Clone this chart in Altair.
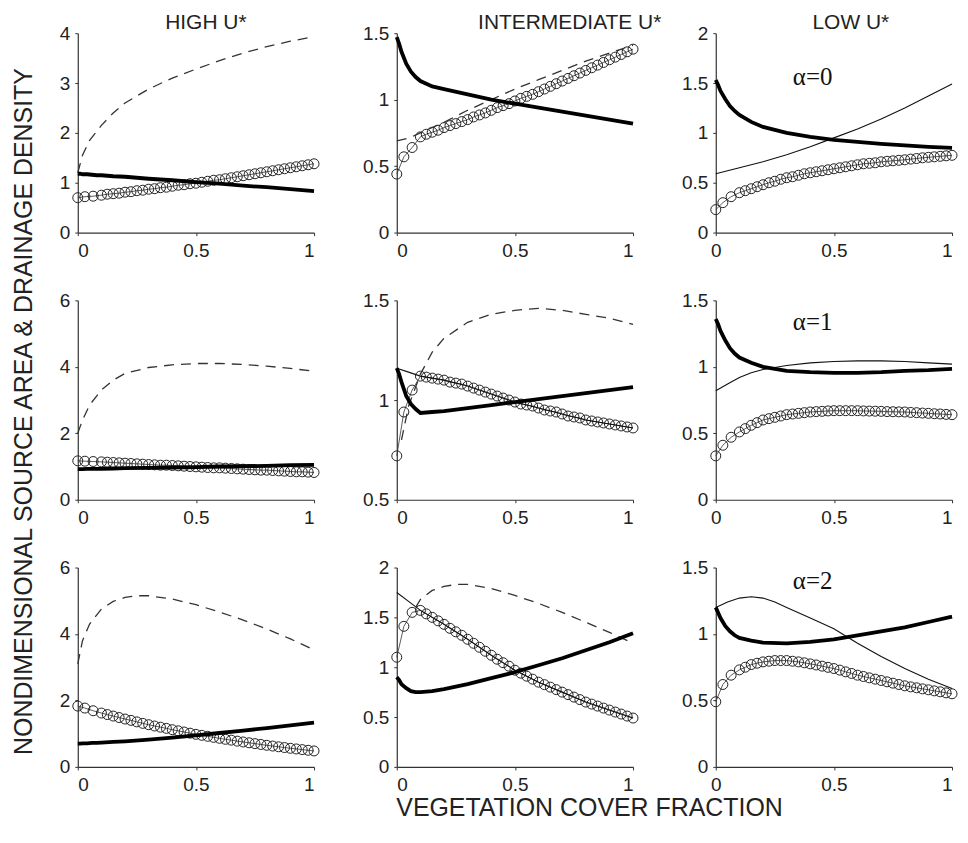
import altair as alt
import pandas as pd

FONT = "Liberation Sans, Arial, sans-serif"
SERIF = "Liberation Serif, Times New Roman, serif"

# ---------------- column / row labels ----------------
COL_TITLES = ["HIGH U*", "INTERMEDIATE U*", "LOW U*"]
Y_TITLE = "NONDIMENSIONAL SOURCE AREA & DRAINAGE DENSITY"
X_TITLE = "VEGETATION COVER FRACTION"
ALPHA_LABELS = ["\u03b1=0", "\u03b1=1", "\u03b1=2"]
ALPHA_X = [0.41, 0.41, 0.41]
ALPHA_Y = [1.56, 1.34, 1.40]

X_TICKS = [0, 0.5, 1]
Y_DOMAINS = [[0, 4], [0, 1.5], [0, 2],
             [0, 6], [0.5, 1.5], [0, 1.5],
             [0, 6], [0, 2], [0, 1.5]]
Y_TICKS = [[0, 1, 2, 3, 4], [0, 0.5, 1, 1.5], [0, 0.5, 1, 1.5, 2],
           [0, 2, 4, 6], [0.5, 1, 1.5], [0, 0.5, 1, 1.5],
           [0, 2, 4, 6], [0, 0.5, 1, 1.5, 2], [0, 0.5, 1, 1.5]]

# ---------------- circle series (common x grid) ----------------
X_CIRC = [0, 0.03, 0.065, 0.1, 0.125, 0.15, 0.175, 0.2, 0.225, 0.25, 0.275, 0.3,
          0.325, 0.35, 0.375, 0.4, 0.425, 0.45, 0.475, 0.5, 0.525, 0.55, 0.575,
          0.6, 0.625, 0.65, 0.675, 0.7, 0.725, 0.75, 0.775, 0.8, 0.825, 0.85,
          0.875, 0.9, 0.925, 0.95, 0.975, 1.0]

CIRC_11 = [0.70, 0.72, 0.73, 0.75, 0.77, 0.78, 0.79, 0.81, 0.82, 0.84, 0.85, 0.87,
           0.88, 0.90, 0.91, 0.93, 0.95, 0.96, 0.98, 0.99, 1.01, 1.03, 1.05, 1.06,
           1.08, 1.10, 1.12, 1.14, 1.16, 1.18, 1.20, 1.22, 1.24, 1.26, 1.28, 1.30,
           1.32, 1.34, 1.36, 1.38]
CIRC_12 = [0.44, 0.57, 0.64, 0.72, 0.74, 0.755, 0.77, 0.79, 0.805, 0.82, 0.835, 0.85,
           0.87, 0.885, 0.90, 0.92, 0.94, 0.955, 0.97, 0.99, 1.01, 1.025, 1.04, 1.06,
           1.08, 1.10, 1.12, 1.14, 1.16, 1.18, 1.20, 1.22, 1.24, 1.26, 1.28, 1.30,
           1.32, 1.34, 1.36, 1.38]
CIRC_13 = [0.23, 0.30, 0.36, 0.40, 0.42, 0.44, 0.46, 0.48, 0.50, 0.515, 0.535, 0.55,
           0.56, 0.575, 0.59, 0.60, 0.61, 0.62, 0.63, 0.64, 0.65, 0.66, 0.67, 0.68,
           0.69, 0.695, 0.70, 0.71, 0.715, 0.72, 0.725, 0.73, 0.737, 0.743, 0.75,
           0.755, 0.76, 0.765, 0.77, 0.775]
CIRC_21 = [1.17, 1.16, 1.15, 1.14, 1.13, 1.12, 1.11, 1.10, 1.09, 1.08, 1.07, 1.06,
           1.05, 1.04, 1.04, 1.03, 1.02, 1.01, 1.00, 0.99, 0.98, 0.97, 0.96, 0.96,
           0.95, 0.94, 0.93, 0.92, 0.91, 0.90, 0.89, 0.89, 0.88, 0.87, 0.86, 0.85,
           0.84, 0.84, 0.83, 0.82]
CIRC_22 = [0.72, 0.94, 1.05, 1.12, 1.115, 1.11, 1.105, 1.10, 1.09, 1.085, 1.08, 1.07,
           1.06, 1.05, 1.04, 1.03, 1.02, 1.01, 1.00, 0.99, 0.98, 0.975, 0.97, 0.96,
           0.95, 0.945, 0.94, 0.93, 0.92, 0.915, 0.91, 0.90, 0.895, 0.89, 0.885,
           0.88, 0.875, 0.87, 0.865, 0.86]
CIRC_23 = [0.33, 0.41, 0.47, 0.51, 0.535, 0.56, 0.58, 0.60, 0.61, 0.62, 0.63, 0.64,
           0.645, 0.65, 0.655, 0.66, 0.663, 0.665, 0.668, 0.67, 0.67, 0.67, 0.67,
           0.67, 0.668, 0.667, 0.666, 0.665, 0.663, 0.662, 0.661, 0.66, 0.657,
           0.655, 0.652, 0.65, 0.647, 0.645, 0.642, 0.64]
CIRC_31 = [1.83, 1.77, 1.69, 1.62, 1.575, 1.53, 1.485, 1.44, 1.40, 1.355, 1.31, 1.27,
           1.23, 1.195, 1.16, 1.12, 1.085, 1.05, 1.015, 0.98, 0.95, 0.92, 0.89, 0.86,
           0.83, 0.805, 0.775, 0.75, 0.725, 0.70, 0.675, 0.65, 0.627, 0.605, 0.582,
           0.56, 0.54, 0.52, 0.50, 0.48]
CIRC_32 = [1.10, 1.41, 1.55, 1.57, 1.535, 1.50, 1.465, 1.43, 1.39, 1.355, 1.32, 1.28,
           1.24, 1.20, 1.16, 1.12, 1.08, 1.045, 1.01, 0.97, 0.94, 0.91, 0.88, 0.85,
           0.825, 0.80, 0.775, 0.75, 0.725, 0.70, 0.675, 0.65, 0.63, 0.61, 0.59,
           0.57, 0.55, 0.53, 0.51, 0.49]
CIRC_33 = [0.49, 0.62, 0.69, 0.73, 0.75, 0.77, 0.78, 0.79, 0.795, 0.80, 0.80, 0.80,
           0.795, 0.79, 0.783, 0.775, 0.767, 0.758, 0.749, 0.74, 0.728, 0.715, 0.703,
           0.69, 0.68, 0.67, 0.66, 0.65, 0.64, 0.63, 0.62, 0.61, 0.602, 0.595, 0.587,
           0.58, 0.572, 0.565, 0.557, 0.55]

# ---------------- thick solid series ----------------
X_THICK = [0, 0.01, 0.02, 0.04, 0.06, 0.08, 0.1, 0.15, 0.2, 0.3, 0.4, 0.5, 0.6, 0.7,
           0.8, 0.9, 1.0]
THICK_11 = [1.18, 1.18, 1.17, 1.17, 1.16, 1.15, 1.15, 1.13, 1.12, 1.08, 1.05, 1.01,
            0.98, 0.94, 0.91, 0.87, 0.83]
THICK_12 = [1.47, 1.42, 1.36, 1.27, 1.21, 1.17, 1.14, 1.10, 1.08, 1.04, 1.00, 0.97,
            0.94, 0.91, 0.88, 0.85, 0.82]
THICK_13 = [1.53, 1.48, 1.42, 1.34, 1.27, 1.22, 1.18, 1.11, 1.06, 1.00, 0.96, 0.93,
            0.91, 0.89, 0.875, 0.86, 0.85]
THICK_21 = [0.92, 0.92, 0.92, 0.93, 0.93, 0.93, 0.93, 0.94, 0.95, 0.96, 0.97, 0.98,
            1.00, 1.01, 1.02, 1.04, 1.05]
THICK_22 = [1.16, 1.13, 1.09, 1.02, 0.98, 0.955, 0.935, 0.94, 0.945, 0.96, 0.975,
            0.99, 1.005, 1.02, 1.035, 1.05, 1.065]
THICK_23 = [1.36, 1.32, 1.27, 1.20, 1.14, 1.10, 1.07, 1.03, 1.00, 0.97, 0.96, 0.955,
            0.955, 0.96, 0.97, 0.975, 0.985]
THICK_31 = [0.70, 0.70, 0.71, 0.71, 0.72, 0.72, 0.73, 0.75, 0.77, 0.82, 0.88, 0.95,
            1.02, 1.09, 1.17, 1.25, 1.33]
THICK_32 = [0.90, 0.87, 0.83, 0.79, 0.76, 0.75, 0.75, 0.76, 0.78, 0.83, 0.89, 0.95,
            1.02, 1.09, 1.17, 1.25, 1.34]
THICK_33 = [1.20, 1.16, 1.12, 1.06, 1.02, 0.99, 0.97, 0.95, 0.935, 0.93, 0.94, 0.96,
            0.99, 1.02, 1.05, 1.09, 1.13]

# ---------------- dashed series ----------------
DASH_11_X = [0, 0.02, 0.05, 0.1, 0.15, 0.2, 0.3, 0.4, 0.5, 0.6, 0.7, 0.8, 0.9, 1.0]
DASH_11_Y = [1.2, 1.55, 1.85, 2.15, 2.4, 2.6, 2.88, 3.1, 3.28, 3.45, 3.6, 3.73, 3.84, 3.93]
DASH_12_X = [0, 0.05, 0.1, 0.2, 0.3, 0.4, 0.5, 0.6, 0.7, 0.8, 0.9, 1.0]
DASH_12_Y = [0.69, 0.71, 0.75, 0.83, 0.92, 1.0, 1.08, 1.15, 1.22, 1.29, 1.35, 1.41]
DASH_21_X = [0, 0.02, 0.05, 0.1, 0.15, 0.2, 0.3, 0.4, 0.5, 0.6, 0.7, 0.8, 0.9, 1.0]
DASH_21_Y = [2.0, 2.4, 2.85, 3.3, 3.6, 3.8, 3.98, 4.06, 4.1, 4.1, 4.07, 4.02, 3.95, 3.87]
DASH_22_X = [0.02, 0.05, 0.1, 0.15, 0.2, 0.3, 0.4, 0.5, 0.6, 0.7, 0.8, 0.9, 1.0]
DASH_22_Y = [0.8, 0.97, 1.13, 1.24, 1.31, 1.39, 1.43, 1.45, 1.46, 1.45, 1.43, 1.41, 1.38]
DASH_31_X = [0, 0.02, 0.05, 0.1, 0.15, 0.2, 0.25, 0.3, 0.4, 0.5, 0.6, 0.7, 0.8, 0.9, 1.0]
DASH_31_Y = [3.1, 3.8, 4.3, 4.75, 4.98, 5.1, 5.15, 5.15, 5.05, 4.88, 4.66, 4.42, 4.15,
             3.85, 3.52]
DASH_32_X = [0.08, 0.1, 0.15, 0.2, 0.25, 0.3, 0.4, 0.5, 0.6, 0.7, 0.8, 0.9, 1.0]
DASH_32_Y = [1.6, 1.68, 1.77, 1.81, 1.83, 1.83, 1.79, 1.72, 1.64, 1.55, 1.45, 1.35, 1.24]

# ---------------- thin solid series ----------------
THIN_13_X = [0, 0.1, 0.2, 0.3, 0.4, 0.5, 0.6, 0.7, 0.8, 0.9, 1.0]
THIN_13_Y = [0.59, 0.65, 0.71, 0.78, 0.86, 0.95, 1.04, 1.14, 1.25, 1.37, 1.49]
THIN_22_X = [0, 0.05, 0.1, 0.2, 0.3, 0.4, 0.5, 0.6, 0.7, 0.8, 0.9, 1.0]
THIN_22_Y = [1.16, 1.14, 1.12, 1.10, 1.07, 1.03, 0.99, 0.96, 0.93, 0.90, 0.88, 0.86]
THIN_23_X = [0, 0.05, 0.1, 0.15, 0.2, 0.3, 0.4, 0.5, 0.6, 0.7, 0.8, 0.9, 1.0]
THIN_23_Y = [0.82, 0.87, 0.92, 0.955, 0.98, 1.01, 1.03, 1.04, 1.045, 1.045, 1.04, 1.03, 1.02]
THIN_32_X = [0, 0.05, 0.1, 0.2, 0.3, 0.4, 0.5, 0.6, 0.7, 0.8, 0.9, 1.0]
THIN_32_Y = [1.75, 1.66, 1.57, 1.43, 1.28, 1.12, 0.97, 0.85, 0.75, 0.65, 0.57, 0.49]
THIN_33_X = [0, 0.05, 0.1, 0.15, 0.2, 0.25, 0.3, 0.4, 0.5, 0.6, 0.7, 0.8, 0.9, 1.0]
THIN_33_Y = [1.2, 1.24, 1.27, 1.28, 1.27, 1.24, 1.2, 1.12, 1.04, 0.93, 0.83, 0.74, 0.66, 0.59]

CIRCS = [CIRC_11, CIRC_12, CIRC_13, CIRC_21, CIRC_22, CIRC_23, CIRC_31, CIRC_32, CIRC_33]
THICKS = [THICK_11, THICK_12, THICK_13, THICK_21, THICK_22, THICK_23, THICK_31, THICK_32, THICK_33]
DASHES = {0: (DASH_11_X, DASH_11_Y), 1: (DASH_12_X, DASH_12_Y), 3: (DASH_21_X, DASH_21_Y),
          4: (DASH_22_X, DASH_22_Y), 6: (DASH_31_X, DASH_31_Y), 7: (DASH_32_X, DASH_32_Y)}
THINS = {2: (THIN_13_X, THIN_13_Y), 4: (THIN_22_X, THIN_22_Y), 5: (THIN_23_X, THIN_23_Y),
         7: (THIN_32_X, THIN_32_Y), 8: (THIN_33_X, THIN_33_Y)}

W, H = 237, 200
COL_GAP, ROW_GAP = 83, 68
TITLE_DX = [10, 55, 17]


def panel(i):
    r, c = divmod(i, 3)
    ydom = Y_DOMAINS[i]
    x_axis_kw = dict(values=X_TICKS, format="~g", title="")
    if c == 2:
        x_axis_kw["labelAlign"] = {"condition": {"test": "datum.value === 1",
                                                 "value": "right"},
                                   "value": "center"}
    y_axis_kw = dict(values=Y_TICKS[i], format="~g", title="")
    if i == 3:
        y_axis_kw.update(title=Y_TITLE, titleX=-41, titleY=111, titleAngle=270,
                         titleAlign="center", titleBaseline="bottom",
                         titleFontSize=25)
    if i == 7:
        x_axis_kw.update(title=X_TITLE, titleX=-1, titleY=49, titleAlign="left",
                         titleBaseline="alphabetic", titleFontSize=25)
    xenc = alt.X("x:Q", scale=alt.Scale(domain=[0, 1], nice=False, zero=False),
                 axis=alt.Axis(**x_axis_kw))
    yenc = alt.Y("y:Q", scale=alt.Scale(domain=ydom, nice=False, zero=False),
                 axis=alt.Axis(**y_axis_kw))

    cdf = pd.DataFrame({"x": X_CIRC, "y": CIRCS[i]})
    layers = []
    layers.append(alt.Chart(cdf).mark_line(color="#333", strokeWidth=0.8)
                  .encode(x=xenc, y=yenc))
    layers.append(alt.Chart(cdf).mark_point(shape="circle", filled=False, size=100,
                                            color="#222", strokeWidth=1, opacity=1)
                  .encode(x=xenc, y=yenc))
    if i in THINS:
        tx, ty = THINS[i]
        layers.append(alt.Chart(pd.DataFrame({"x": tx, "y": ty}))
                      .mark_line(color="#111", strokeWidth=1.1)
                      .encode(x=xenc, y=yenc))
    if i in DASHES:
        dx, dy = DASHES[i]
        layers.append(alt.Chart(pd.DataFrame({"x": dx, "y": dy}))
                      .mark_line(color="#333", strokeWidth=1.3, strokeDash=[10, 7])
                      .encode(x=xenc, y=yenc))
    tdf = pd.DataFrame({"x": X_THICK, "y": THICKS[i]})
    layers.append(alt.Chart(tdf).mark_line(color="#000", strokeWidth=3.8)
                  .encode(x=xenc, y=yenc))
    if c == 2:
        adf = pd.DataFrame({"x": [ALPHA_X[r]], "y": [ALPHA_Y[r]], "t": [ALPHA_LABELS[r]]})
        layers.append(alt.Chart(adf).mark_text(font=SERIF, fontSize=25, color="#111")
                      .encode(x=xenc, y=yenc, text="t:N"))
    ch = alt.layer(*layers).properties(width=W, height=H)
    if r == 0:
        ch = ch.properties(title=alt.TitleParams(COL_TITLES[c], anchor="middle",
                                                 offset=2, dx=TITLE_DX[c], dy=11))
    return ch


chart = alt.concat(*[panel(i) for i in range(9)], columns=3,
                   spacing={"row": ROW_GAP, "column": COL_GAP}, bounds="flush").properties(
    background="white", padding={"left": 3, "top": 3, "right": 0, "bottom": 0}
).configure_view(strokeWidth=0).configure_axis(
    grid=False, domainColor="#333", domainWidth=1.2, tickColor="#333", tickSize=3,
    labelFont=FONT, labelFontSize=19, labelColor="#222", labelPadding=5,
    titleFont=FONT, titleFontWeight="normal", titleColor="#222"
).configure_axisX(labelPadding=6).configure_title(
    font=FONT, fontSize=21, fontWeight="normal", color="#222")

chart.save("out.html", embed_options={"renderer": "svg", "actions": False})
